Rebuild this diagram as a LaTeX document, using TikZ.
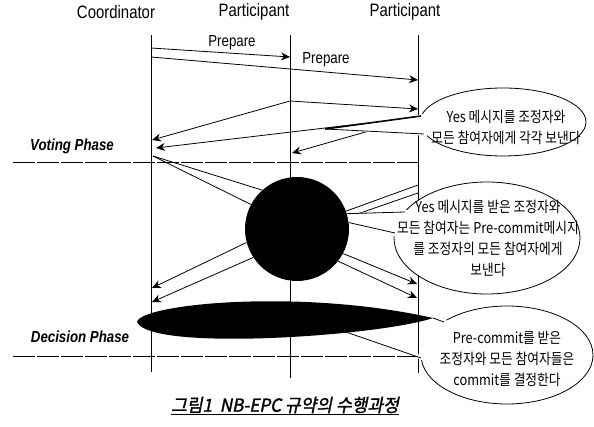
\documentclass[tikz,border=0pt]{standalone}
\usepackage{fontspec}
\usetikzlibrary{arrows.meta}
\newfontfamily\narrowsf[FakeStretch=0.83]{Liberation Sans}
\newfontfamily\hangulfont[FakeStretch=0.85]{Noto Sans CJK KR}
\newfontfamily\hangulcap[FakeStretch=0.95,FakeSlant=0.2,FakeBold=1.5]{Noto Sans CJK KR}
\begin{document}
\begin{tikzpicture}[x=1pt, y=-1pt, line width=0.8pt,
    msg/.style={-{Stealth[length=9pt, width=8pt, inset=3pt]}},
    phaseline/.style={dash pattern=on 22pt off 2pt},
    head/.style={font=\narrowsf\fontsize{18}{20}\selectfont},
    msglabel/.style={font=\narrowsf\fontsize{16}{18}\selectfont},
    phaselabel/.style={font=\narrowsf\fontsize{16}{18}\selectfont\bfseries\itshape},
    balloon/.style={draw, fill=white},
    note/.style={font=\hangulfont\fontsize{15}{21}\selectfont, align=center, inner sep=0pt},
    blob/.style={circle, fill=black, inner sep=0pt, minimum size=104pt}]
\useasboundingbox (0,0) rectangle (594,427);

\foreach \n/\x/\lx/\b/\t in {co/151/116/372/Coordinator, pa/290/254/378/Participant, pb/418/405/373/Participant} {
    \node[head] (\n-head) at (\lx,12) {\t};
    \draw (\x,35) coordinate (\n-top) -- (\x,\b) coordinate (\n-bot);
}

\draw[phaseline] (13,162) coordinate (vote-l) -- (418,162) coordinate (vote-r);
\node[phaselabel] (voting) at (72,146) {Voting Phase};
\draw[phaseline] (13,356) coordinate (dec-l) -- (418,356) coordinate (dec-r);
\node[phaselabel] (decision) at (80,337) {Decision Phase};

\coordinate (co1) at (151,48); \coordinate (pa1) at (290,57);
\coordinate (co2) at (151,57); \coordinate (pb1) at (418,80);
\draw[msg] (co1) -- (pa1);
\draw[msg] (co2) -- (pb1);
\node[msglabel] (prep1) at (232,43) {Prepare};
\node[msglabel] (prep2) at (326,60) {Prepare};

\coordinate (pa2) at (290,101); \coordinate (pb2) at (418,109); \coordinate (co3) at (152,140);
\draw[msg] (pa2) -- (pb2);
\draw[msg] (pa2) -- (co3);
\coordinate (pb3) at (418,117); \coordinate (co4) at (156,148); \coordinate (pa3) at (292,153);
\draw[msg] (pb3) -- (co4);
\draw[msg] (pb3) -- (pa3);

\node[blob] (precircle) at (297,229) {};
\coordinate (co5) at (153,156);
\draw (co5) -- (precircle.132);
\draw (co5) -- (precircle.152);
\coordinate (pb4) at (418,185); \coordinate (pb5) at (418,193);
\draw (pb4) -- (precircle.20);
\draw (pb5) -- (precircle.13);
\coordinate (co6) at (152,288); \coordinate (co7) at (152,302);
\draw[msg] (precircle.195) -- (co6);
\draw[msg] (precircle.213) -- (co7);
\coordinate (pb6) at (417,284); \coordinate (pb7) at (417,298);
\draw[msg] (precircle.332) -- (pb6);
\draw[msg] (precircle.322) -- (pb7);

% callouts
\draw[balloon] (503,122) ellipse [x radius=83pt, y radius=34pt];
\coordinate (tipa) at (325,129);
\fill[white] (tipa) -- (424,114) -- (427,136) -- cycle;
\draw[line width=1.6pt] (tipa) -- (421,116);
\draw (tipa) -- (424,134);
\node[note] (yesnote) at (506,127) {Yes 메시지를 조정자와\\모든 참여자에게 각각 보낸다};

\draw[balloon] (487,238) ellipse [x radius=93pt, y radius=56pt];
\fill[white] (precircle.17) -- (408,210) -- (397,237) -- (precircle.7) -- cycle;
\draw (precircle.17) -- (405,212);
\draw (precircle.7) -- (395,233);
\node[note] (precommitnote) at (488,238) {Yes 메시지를 받은 조정자와\\모든 참여자는 Pre-commit메시지\\를 조정자의 모든 참여자에게\\보낸다};

\draw[balloon] (507,355) ellipse [x radius=86pt, y radius=49pt];
\fill[white] (433,318) -- (447,320) -- (425,362) -- (417,358) -- cycle;
\draw (433,318) -- (444,322);
\draw (343,331) -- (421,358);
\fill (137,322) .. controls (140,304) and (300,288) .. (433,318) .. controls (380,336) and (150,352) .. (137,322) -- cycle;
\node[note] (commitnote) at (507,359) {Pre-commit를 받은\\조정자와 모든 참여자들은\\commit를 결정한다};

\node[font=\hangulcap\fontsize{18}{20}\selectfont] (caption) at (285,406) {\underline{그림1~~NB-EPC 규약의 수행과정}};
\end{tikzpicture}
\end{document}
